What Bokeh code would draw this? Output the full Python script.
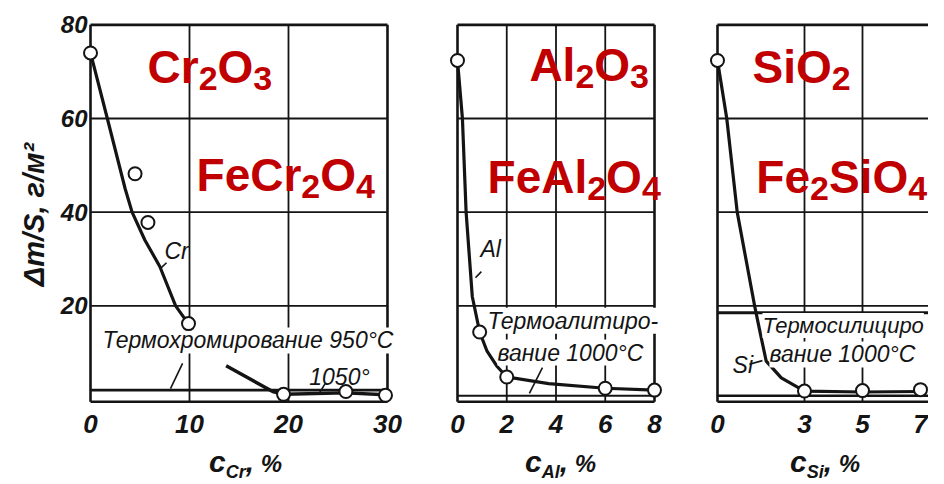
from bokeh.plotting import figure
from bokeh.models import Label, Range1d, FixedTicker, Div
from bokeh.layouts import row, column
from bokeh.embed import file_html
from bokeh.resources import INLINE

# ---------------- data ----------------
# Panel 1: chromizing (c_Cr, %)
cr_xticks = [0, 10, 20, 30]
cr_yticks = [20, 40, 60, 80]
cr_xgrid = [10, 20]
cr_ygrid = [20, 40, 60]
cr_curve_x = [0.0, 1.7, 3.5, 4.2, 5.5, 7.0, 8.6, 9.8]
cr_curve_y = [74.0, 60.0, 45.0, 40.0, 34.0, 28.4, 20.0, 16.4]
cr_pts_x = [0.0, 4.5, 5.8, 9.9]
cr_pts_y = [74.0, 48.2, 37.8, 16.2]
cr950_x = [0.0, 30.0]
cr950_y = [2.0, 2.0]
cr1050_x = [13.7, 18.4, 19.5, 25.8, 29.8]
cr1050_y = [7.2, 1.7, 1.1, 1.4, 1.0]
cr1050_pts_x = [19.5, 25.8, 29.8]
cr1050_pts_y = [1.1, 1.7, 0.9]

# Panel 2: aluminizing (c_Al, %)
al_xticks = [0, 2, 4, 6, 8]
al_xgrid = [2, 4, 6]
al_ygrid = [20, 40, 60]
al_curve_x = [0.0, 0.2, 0.35, 0.6, 0.9, 1.2, 1.6, 2.0, 3.7, 6.0, 8.0]
al_curve_y = [72.4, 60.0, 40.0, 22.0, 14.4, 10.3, 7.1, 4.8, 3.4, 2.4, 2.0]
al_pts_x = [0.0, 0.9, 2.0, 6.0, 8.0]
al_pts_y = [72.4, 14.4, 4.8, 2.4, 2.0]
al1000_x = [0.0, 8.0]
al1000_y = [0.8, 0.8]

# Panel 3: siliconizing (c_Si, %)
si_xticks = [0, 3, 5, 7]
si_xgrid = [3, 5]
si_ygrid = [20, 40, 60]
si_curve_x = [0.0, 0.32, 0.68, 1.28, 1.48, 1.68, 2.2, 3.0, 5.0, 7.0]
si_curve_y = [72.4, 60.0, 40.0, 20.0, 14.0, 8.2, 4.6, 1.8, 1.6, 1.7]
si_pts_x = [0.0, 3.0, 5.0, 7.0]
si_pts_y = [72.4, 1.8, 1.9, 2.1]
si_band_x = [0.0, 7.3]
si_band_y = [18.5, 18.5]
si1000_x = [0.0, 7.3]
si1000_y = [0.8, 0.8]

Y_TOP = 80.0
Y_BOT = -0.5

# ---------------- styles ----------------
BLACK = "#141414"
RED = "#c00000"
TICK_FONT = "Liberation Sans"
NOTE_FONT = "Liberation Sans"
FORM_FONT = "Liberation Sans"
H = 446

ARIAL_BOLD = {"C": 722, "r": 389, "O": 778, "F": 611, "e": 556, "A": 722,
              "l": 278, "S": 667, "i": 278, "2": 556, "3": 556, "4": 556}


def make_fig(width, xr, bl, br):
    p = figure(width=width, height=H, x_range=Range1d(*xr), y_range=Range1d(-1.5, 80.5),
               min_border_left=bl, min_border_right=br, min_border_top=22, min_border_bottom=40,
               output_backend="svg", toolbar_location=None, tools="")
    p.outline_line_color = None
    p.background_fill_color = "white"
    p.border_fill_color = "white"
    p.xgrid.visible = False
    p.ygrid.visible = False
    for ax in p.xaxis + p.yaxis:
        ax.major_tick_in = 0
        ax.major_tick_out = 0
        ax.minor_tick_in = 0
        ax.minor_tick_out = 0
        ax.axis_line_color = None
        ax.major_label_text_font = TICK_FONT
        ax.major_label_text_font_style = "bold italic"
        ax.major_label_text_color = BLACK
    p.xaxis.major_label_text_font_size = "26px"
    p.xaxis.major_label_standoff = 8
    return p


def frame(p, xmax, xgrid, ygrid, right=True):
    p.segment(x0=xgrid, x1=xgrid, y0=[Y_BOT] * len(xgrid), y1=[Y_TOP] * len(xgrid),
              line_color=BLACK, line_width=1.8)
    p.segment(x0=[0] * len(ygrid), x1=[xmax] * len(ygrid), y0=ygrid, y1=ygrid,
              line_color=BLACK, line_width=1.8)
    x0 = [0, 0, 0]
    x1 = [0, xmax, xmax]
    y0 = [Y_BOT, Y_TOP, Y_BOT]
    y1 = [Y_TOP, Y_TOP, Y_BOT]
    if right:
        x0.append(xmax); x1.append(xmax); y0.append(Y_BOT); y1.append(Y_TOP)
    p.segment(x0=x0, x1=x1, y0=y0, y1=y1, line_color=BLACK, line_width=2.6)


def curve(p, xs, ys, w=3):
    p.line(xs, ys, line_color=BLACK, line_width=w)


def pts(p, xs, ys):
    r = p.scatter(xs, ys, marker="circle", size=13, fill_color="white",
                  line_color=BLACK, line_width=2)
    r.level = "overlay"


def formula(p, x, y, parts, main=46, sub=34, drop=12):
    dx = 0.0
    lift = 14
    for txt, is_sub in parts:
        size = sub if is_sub else main
        p.add_layout(Label(x=x, y=y, x_offset=dx, y_offset=lift - (drop if is_sub else 0),
                           text=txt, text_font=FORM_FONT, text_font_style="bold",
                           text_font_size=f"{size}px", text_color=RED,
                           text_baseline="alphabetic", text_align="left"))
        dx += sum(ARIAL_BOLD[c] for c in txt) / 1000.0 * size


def note(p, x, y, text, size=23, bg=True):
    p.add_layout(Label(x=x, y=y, y_offset=8, text=text, text_font=NOTE_FONT,
                       text_font_style="italic", text_font_size=f"{size}px",
                       text_color=BLACK, text_baseline="alphabetic", text_align="left",
                       background_fill_color="white" if bg else None))


def xlabel_div(width, pad, sub):
    html = (
        f'<div style="position:relative; top:5px; padding-left:{pad}px; '
        f"font-family:'Liberation Sans'; font-style:italic; font-weight:bold; "
        f'font-size:30px; line-height:22px; white-space:nowrap; color:{BLACK}">'
        f'c<span style="font-size:18px; position:relative; top:6px">{sub}</span>,'
        f'<span style="font-size:24px"> %</span></div>'
    )
    return Div(text=html, width=width, height=22, margin=0)


# ---------------- panel 1 ----------------
p1 = make_fig(422, (-0.91, 30.81), 81, 27)
p1.xaxis.ticker = FixedTicker(ticks=cr_xticks)
p1.yaxis.ticker = FixedTicker(ticks=cr_yticks)
p1.yaxis.major_label_text_font_size = "24px"
p1.yaxis.major_label_standoff = -6
p1.yaxis.axis_label = "Δm/S, г/м²"
p1.yaxis.axis_label_text_font = TICK_FONT
p1.yaxis.axis_label_text_font_style = "bold italic"
p1.yaxis.axis_label_text_font_size = "29px"
p1.yaxis.axis_label_text_color = BLACK
p1.yaxis.axis_label_standoff = 8
frame(p1, 30, cr_xgrid, cr_ygrid)
curve(p1, cr950_x, cr950_y, 2.6)
curve(p1, cr1050_x, cr1050_y, 3.4)
curve(p1, cr_curve_x, cr_curve_y, 3.2)
p1.segment(x0=[9.3, 7.07, 23.7], y0=[7.7, 28.0, 3.4], x1=[8.08, 7.68, 23.1], y1=[2.3, 29.2, 1.3],
           line_color=BLACK, line_width=1.6)
pts(p1, cr_pts_x, cr_pts_y)
pts(p1, cr1050_pts_x, cr1050_pts_y)
note(p1, 1.21, 10.9, "Термохромирование 950°С")
note(p1, 22.1, 3.0, "1050°", bg=False)
note(p1, 7.47, 30.1, "Cr", bg=False)
formula(p1, 5.76, 68.1, [("Cr", 0), ("2", 1), ("O", 0), ("3", 1)])
formula(p1, 10.71, 45.0, [("F", 0), ("e", 0), ("Cr", 0), ("2", 1), ("O", 0), ("4", 1)])

# ---------------- panel 2 ----------------
p2 = make_fig(270, (-0.284, 8.325), 28, 30)
p2.xaxis.ticker = FixedTicker(ticks=al_xticks)
p2.yaxis.visible = False
frame(p2, 8, al_xgrid, al_ygrid)
curve(p2, al1000_x, al1000_y, 1.8)
curve(p2, al_curve_x, al_curve_y, 3.2)
p2.segment(x0=[0.73, 3.45], y0=[26.0, 6.8], x1=[0.97, 2.92], y1=[27.3, 1.3],
           line_color=BLACK, line_width=1.6)
pts(p2, al_pts_x, al_pts_y)
note(p2, 1.22, 15.1, "Термоалитиро-")
note(p2, 1.62, 8.3, "вание 1000°С")
note(p2, 0.93, 30.5, "Al", bg=False)
formula(p2, 2.92, 68.5, [("Al", 0), ("2", 1), ("O", 0), ("3", 1)])
formula(p2, 1.22, 44.6, [("F", 0), ("e", 0), ("Al", 0), ("2", 1), ("O", 0), ("4", 1)])

# ---------------- panel 3 ----------------
p3 = make_fig(236, (-0.241, 7.276), 18, 0)
p3.xaxis.ticker = FixedTicker(ticks=si_xticks)
p3.yaxis.visible = False
frame(p3, 7.3, si_xgrid, si_ygrid, right=False)
curve(p3, si_band_x, si_band_y, 3.0)
curve(p3, si1000_x, si1000_y, 2.6)
curve(p3, si_curve_x, si_curve_y, 3.2)
p3.segment(x0=[1.10], y0=[7.5], x1=[1.55], y1=[8.3], line_color=BLACK, line_width=1.6)
pts(p3, si_pts_x, si_pts_y)
note(p3, 1.55, 14.1, "Термосилициро", size=22)
note(p3, 1.79, 7.9, "вание 1000°С")
note(p3, 0.52, 5.7, "Si", bg=False)
formula(p3, 1.21, 68.1, [("Si", 0), ("O", 0), ("2", 1)])
formula(p3, 1.34, 44.6, [("F", 0), ("e", 0), ("2", 1), ("Si", 0), ("O", 0), ("4", 1)])

labels = row(xlabel_div(422, 209, "Cr"), xlabel_div(270, 103, "Al"), xlabel_div(236, 98, "Si"))
layout = column(row(p1, p2, p3), labels)
open("out.html", "w").write(file_html(layout, INLINE))
